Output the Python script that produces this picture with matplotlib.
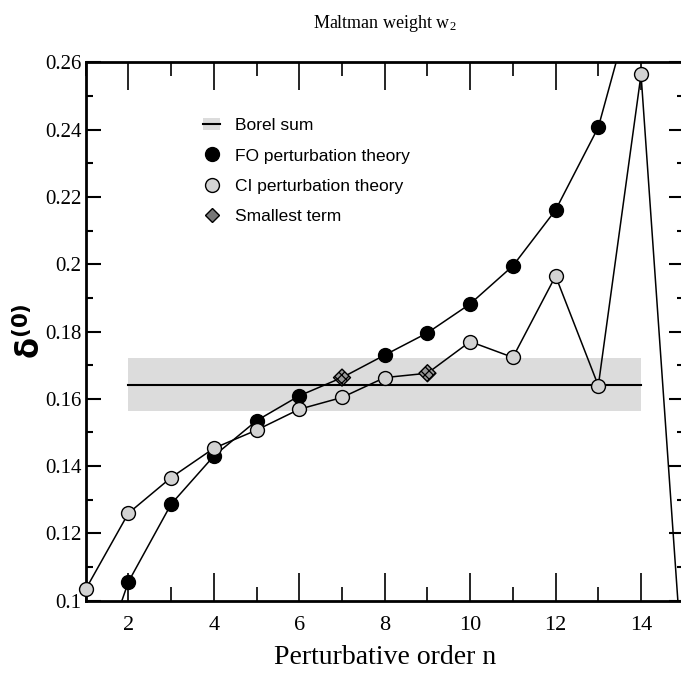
import matplotlib
matplotlib.use("Agg")
import matplotlib.pyplot as plt
from matplotlib.lines import Line2D
from matplotlib.patches import Patch
from matplotlib.ticker import MultipleLocator, FuncFormatter

plt.rcParams["mathtext.fontset"] = "custom"
plt.rcParams["mathtext.rm"] = "Liberation Serif"
plt.rcParams["mathtext.it"] = "Liberation Serif:italic"
plt.rcParams["hatch.color"] = "black"
plt.rcParams["hatch.linewidth"] = 0.9

# perturbative orders
n_fo = [1, 2, 3, 4, 5, 6, 7, 8, 9, 10, 11, 12, 13, 14]
n_ci = [1, 2, 3, 4, 5, 6, 7, 8, 9, 10, 11, 12, 13, 14, 15]

# delta^(0) values
delta_fo = [0.069, 0.1056, 0.1287, 0.1430, 0.1535, 0.1609, 0.1663, 0.1730,
            0.1796, 0.1882, 0.1995, 0.2161, 0.2407, 0.287]
delta_ci = [0.1034, 0.1260, 0.1366, 0.1453, 0.1507, 0.1569, 0.1604, 0.1663,
            0.1676, 0.1770, 0.1723, 0.1965, 0.1639, 0.2564, 0.075]

# smallest term of each series
smallest_n = [7, 9]
smallest_delta = [0.1663, 0.1676]

# Borel sum with its uncertainty band
borel_n = [2, 14]
borel_value = 0.1641
borel_low = 0.1563
borel_high = 0.1721

fig = plt.figure(figsize=(6.81, 6.75), dpi=100)
ax = fig.add_axes([85.7 / 681, 1 - 600.7 / 675, (683.75 - 85.7) / 681, (600.7 - 62.3) / 675])

ax.fill_between(borel_n, borel_low, borel_high, color="#dcdcdc", lw=0, zorder=1)
ax.plot(borel_n, [borel_value, borel_value], color="black", lw=1.5, zorder=2)

# lines through every order
ax.plot(n_fo, delta_fo, color="black", lw=1.1, zorder=3)
ax.plot(n_ci, delta_ci, color="black", lw=1.1, zorder=3)

# markers (the smallest term gets its own symbol)
fo_pts = [(n, d) for n, d in zip(n_fo, delta_fo) if n != smallest_n[0]]
ci_pts = [(n, d) for n, d in zip(n_ci, delta_ci) if n != smallest_n[1]]
ax.plot([p[0] for p in fo_pts], [p[1] for p in fo_pts], ls="none", marker="o",
        ms=10, mfc="black", mec="black", mew=1, zorder=4, clip_on=False)
ax.plot([p[0] for p in ci_pts], [p[1] for p in ci_pts], ls="none", marker="o",
        ms=10, mfc="#d3d3d3", mec="black", mew=1, zorder=4, clip_on=False)
ax.scatter(smallest_n, smallest_delta, marker="D", s=75, facecolor="#999999",
           edgecolor="black", hatch="xxxx", linewidth=1, zorder=5)

ax.set_xlim(1, 15)
ax.set_ylim(0.1, 0.26)

ax.xaxis.set_major_locator(MultipleLocator(2))
ax.xaxis.set_minor_locator(MultipleLocator(1))
ax.yaxis.set_major_locator(MultipleLocator(0.02))
ax.yaxis.set_minor_locator(MultipleLocator(0.01))
ax.yaxis.set_major_formatter(FuncFormatter(lambda v, p: "%g" % round(v, 3)))

ax.tick_params(axis="x", which="major", direction="in", length=20, width=1.2,
               top=True, pad=11, labelsize=16)
ax.tick_params(axis="x", which="minor", direction="in", length=10, width=1.2, top=True)
ax.tick_params(axis="y", which="major", direction="in", length=11, width=1.5,
               right=True, pad=3, labelsize=15)
ax.tick_params(axis="y", which="minor", direction="in", length=5, width=1.5, right=True)
for lab in ax.get_xticklabels() + ax.get_yticklabels():
    lab.set_family("Liberation Serif")
for sp in ax.spines.values():
    sp.set_linewidth(2)

ax.set_xlabel("Perturbative order n", family="Liberation Serif", fontsize=20, labelpad=7)
ax.set_ylabel(r"$\mathbf{\delta^{(0)}}$", fontsize=22)
ax.yaxis.set_label_coords(-0.066, 0.5)
ax.set_title(r"Maltman weight w$_2$", family="Liberation Serif", fontsize=13, pad=25)

handles = [
    (Patch(facecolor="#dcdcdc", edgecolor="none"), Line2D([], [], color="black", lw=1.5)),
    Line2D([], [], ls="none", marker="o", ms=10, mfc="black", mec="black"),
    Line2D([], [], ls="none", marker="o", ms=10, mfc="#d3d3d3", mec="black"),
    Line2D([], [], ls="none", marker="D", ms=7.5, mfc="#777777", mec="black"),
]
labels = ["Borel sum", "FO perturbation theory", "CI perturbation theory", "Smallest term"]
ax.legend(handles, labels, loc="upper left", bbox_to_anchor=(0.17, 0.925), frameon=False,
          prop={"family": "Liberation Sans", "size": 12.5}, handlelength=1.0,
          handletextpad=0.85, labelspacing=0.86)

fig.savefig("out.png", dpi=100)
